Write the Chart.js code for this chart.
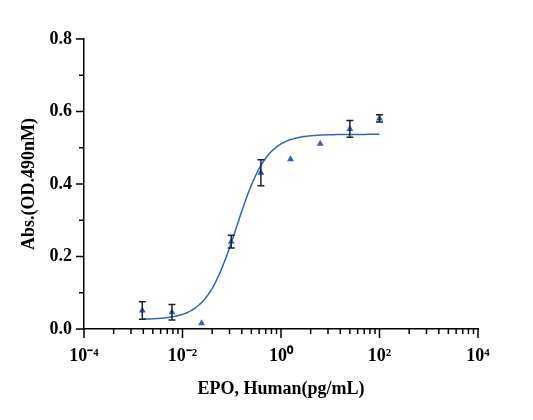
<!DOCTYPE html>
<html>
<head>
<meta charset="utf-8">
<script src="https://cdn.jsdelivr.net/npm/chart.js@4.4.0/dist/chart.umd.min.js"></script>
<style>
  body { margin: 0; background: #fff; }
</style>
</head>
<body>
<canvas id="chart" width="533" height="420"></canvas>
<script>
// EPO dose-response (4-fold dilutions from 100 pg/mL)
const concentrations = [0.001526, 0.0061, 0.0244, 0.0977, 0.3906, 1.5625, 6.25, 25, 100];
const absMeans = [0.051, 0.046, 0.016, 0.241, 0.431, 0.468, 0.511, 0.552, 0.581];
const absSD = [0.024, 0.0215, 0, 0.0175, 0.036, 0, 0, 0.023, 0.010];

// 4PL fit parameters
const fitBottom = 0.026;
const fitTop = 0.537;
const fitEC50 = 0.125;
const fitHill = 1.4;

const xMajorTicks = [1e-4, 1e-2, 1, 1e2, 1e4];
const xTickLabels = ["10⁻⁴", "10⁻²", "10⁰", "10²", "10⁴"];
const yTickLabels = ["0.0", "0.2", "0.4", "0.6", "0.8"];

const BLUE = "#3763b3";
const BAR = "#1c2236";
const FONT = "'Liberation Serif', 'Times New Roman', serif";

// fitted curve between first and last concentration
const curve = [];
const lo = Math.log10(concentrations[0]);
const hi = Math.log10(concentrations[concentrations.length - 1]);
for (let i = 0; i <= 200; i++) {
  const x = Math.pow(10, lo + (hi - lo) * i / 200);
  const y = fitBottom + (fitTop - fitBottom) / (1 + Math.pow(fitEC50 / x, fitHill));
  curve.push({ x, y });
}

const points = concentrations.map((c, i) => ({ x: c, y: absMeans[i] }));

// tick marks (major long, minor short) and error bars
const axisDecor = {
  id: "axisDecor",
  afterDatasetsDraw(chart) {
    const { ctx, scales: { x, y } } = chart;
    ctx.save();
    ctx.strokeStyle = BAR;
    ctx.lineWidth = 1.5;
    ctx.beginPath();
    concentrations.forEach((c, i) => {
      if (!absSD[i]) return;
      const px = x.getPixelForValue(c);
      const top = y.getPixelForValue(absMeans[i] + absSD[i]);
      const bot = y.getPixelForValue(absMeans[i] - absSD[i]);
      ctx.moveTo(px, top); ctx.lineTo(px, bot);
      ctx.moveTo(px - 3.5, top); ctx.lineTo(px + 3.5, top);
      ctx.moveTo(px - 3.5, bot); ctx.lineTo(px + 3.5, bot);
    });
    ctx.stroke();
    ctx.restore();
  },
  afterDraw(chart) {
    const { ctx, scales: { x, y } } = chart;
    ctx.save();
    ctx.strokeStyle = "#000";
    ctx.lineWidth = 1.5;
    ctx.beginPath();
    xMajorTicks.forEach((v, i) => {
      const px = x.getPixelForValue(v);
      ctx.moveTo(px, x.top); ctx.lineTo(px, x.top + 9);
      if (i < xMajorTicks.length - 1) {
        for (let k = 2; k <= 9; k++) {
          const mx = x.getPixelForValue(v * k * k);
          ctx.moveTo(mx, x.top); ctx.lineTo(mx, x.top + 5);
        }
      }
    });
    for (let t = 0; t <= 8; t++) {
      const py = y.getPixelForValue(t / 10);
      const len = t % 2 === 0 ? 8 : 5;
      ctx.moveTo(y.right, py); ctx.lineTo(y.right - len, py);
    }
    ctx.stroke();
    ctx.restore();
  }
};

new Chart(document.getElementById("chart"), {
  type: "scatter",
  data: {
    datasets: [
      {
        type: "line",
        data: curve,
        borderColor: BLUE,
        borderWidth: 1.5,
        pointRadius: 0,
        tension: 0,
        fill: false
      },
      {
        data: points,
        pointStyle: "triangle",
        pointRadius: 4,
        backgroundColor: BLUE,
        borderColor: BLUE,
        borderWidth: 0
      }
    ]
  },
  options: {
    responsive: false,
    animation: false,
    layout: { padding: { top: 39, right: 55, left: 0, bottom: 0 } },
    plugins: {
      legend: { display: false },
      tooltip: { enabled: false }
    },
    scales: {
      x: {
        type: "logarithmic",
        min: 1e-4,
        max: 1e4,
        afterBuildTicks: (scale) => {
          scale.ticks = xMajorTicks.map((v) => ({ value: v }));
        },
        afterFit: (scale) => { scale.height = 91; },
        grid: { drawOnChartArea: false, tickLength: 9, tickColor: "rgba(0,0,0,0)" },
        border: { color: "#000", width: 1.5 },
        ticks: {
          autoSkip: false,
          maxRotation: 0,
          padding: 8,
          color: "#000",
          font: { family: FONT, size: 18, weight: "bold" },
          callback: (val, i) => xTickLabels[i]
        },
        title: {
          display: true,
          text: "EPO, Human(pg/mL)",
          color: "#000",
          font: { family: FONT, size: 18, weight: "bold" },
          padding: { top: 0, bottom: 20 }
        }
      },
      y: {
        min: 0,
        max: 0.8,
        afterFit: (scale) => { scale.width = 84; },
        grid: { drawOnChartArea: false, tickLength: 8, tickColor: "rgba(0,0,0,0)" },
        border: { color: "#000", width: 1.5 },
        ticks: {
          stepSize: 0.2,
          padding: 4,
          color: "#000",
          font: { family: FONT, size: 18, weight: "bold" },
          callback: (val, i) => yTickLabels[i]
        },
        title: {
          display: true,
          text: "Abs.(OD.490nM)",
          color: "#000",
          font: { family: FONT, size: 18, weight: "bold" },
          padding: { top: 19, bottom: 0 }
        }
      }
    }
  },
  plugins: [axisDecor]
});
</script>
</body>
</html>
